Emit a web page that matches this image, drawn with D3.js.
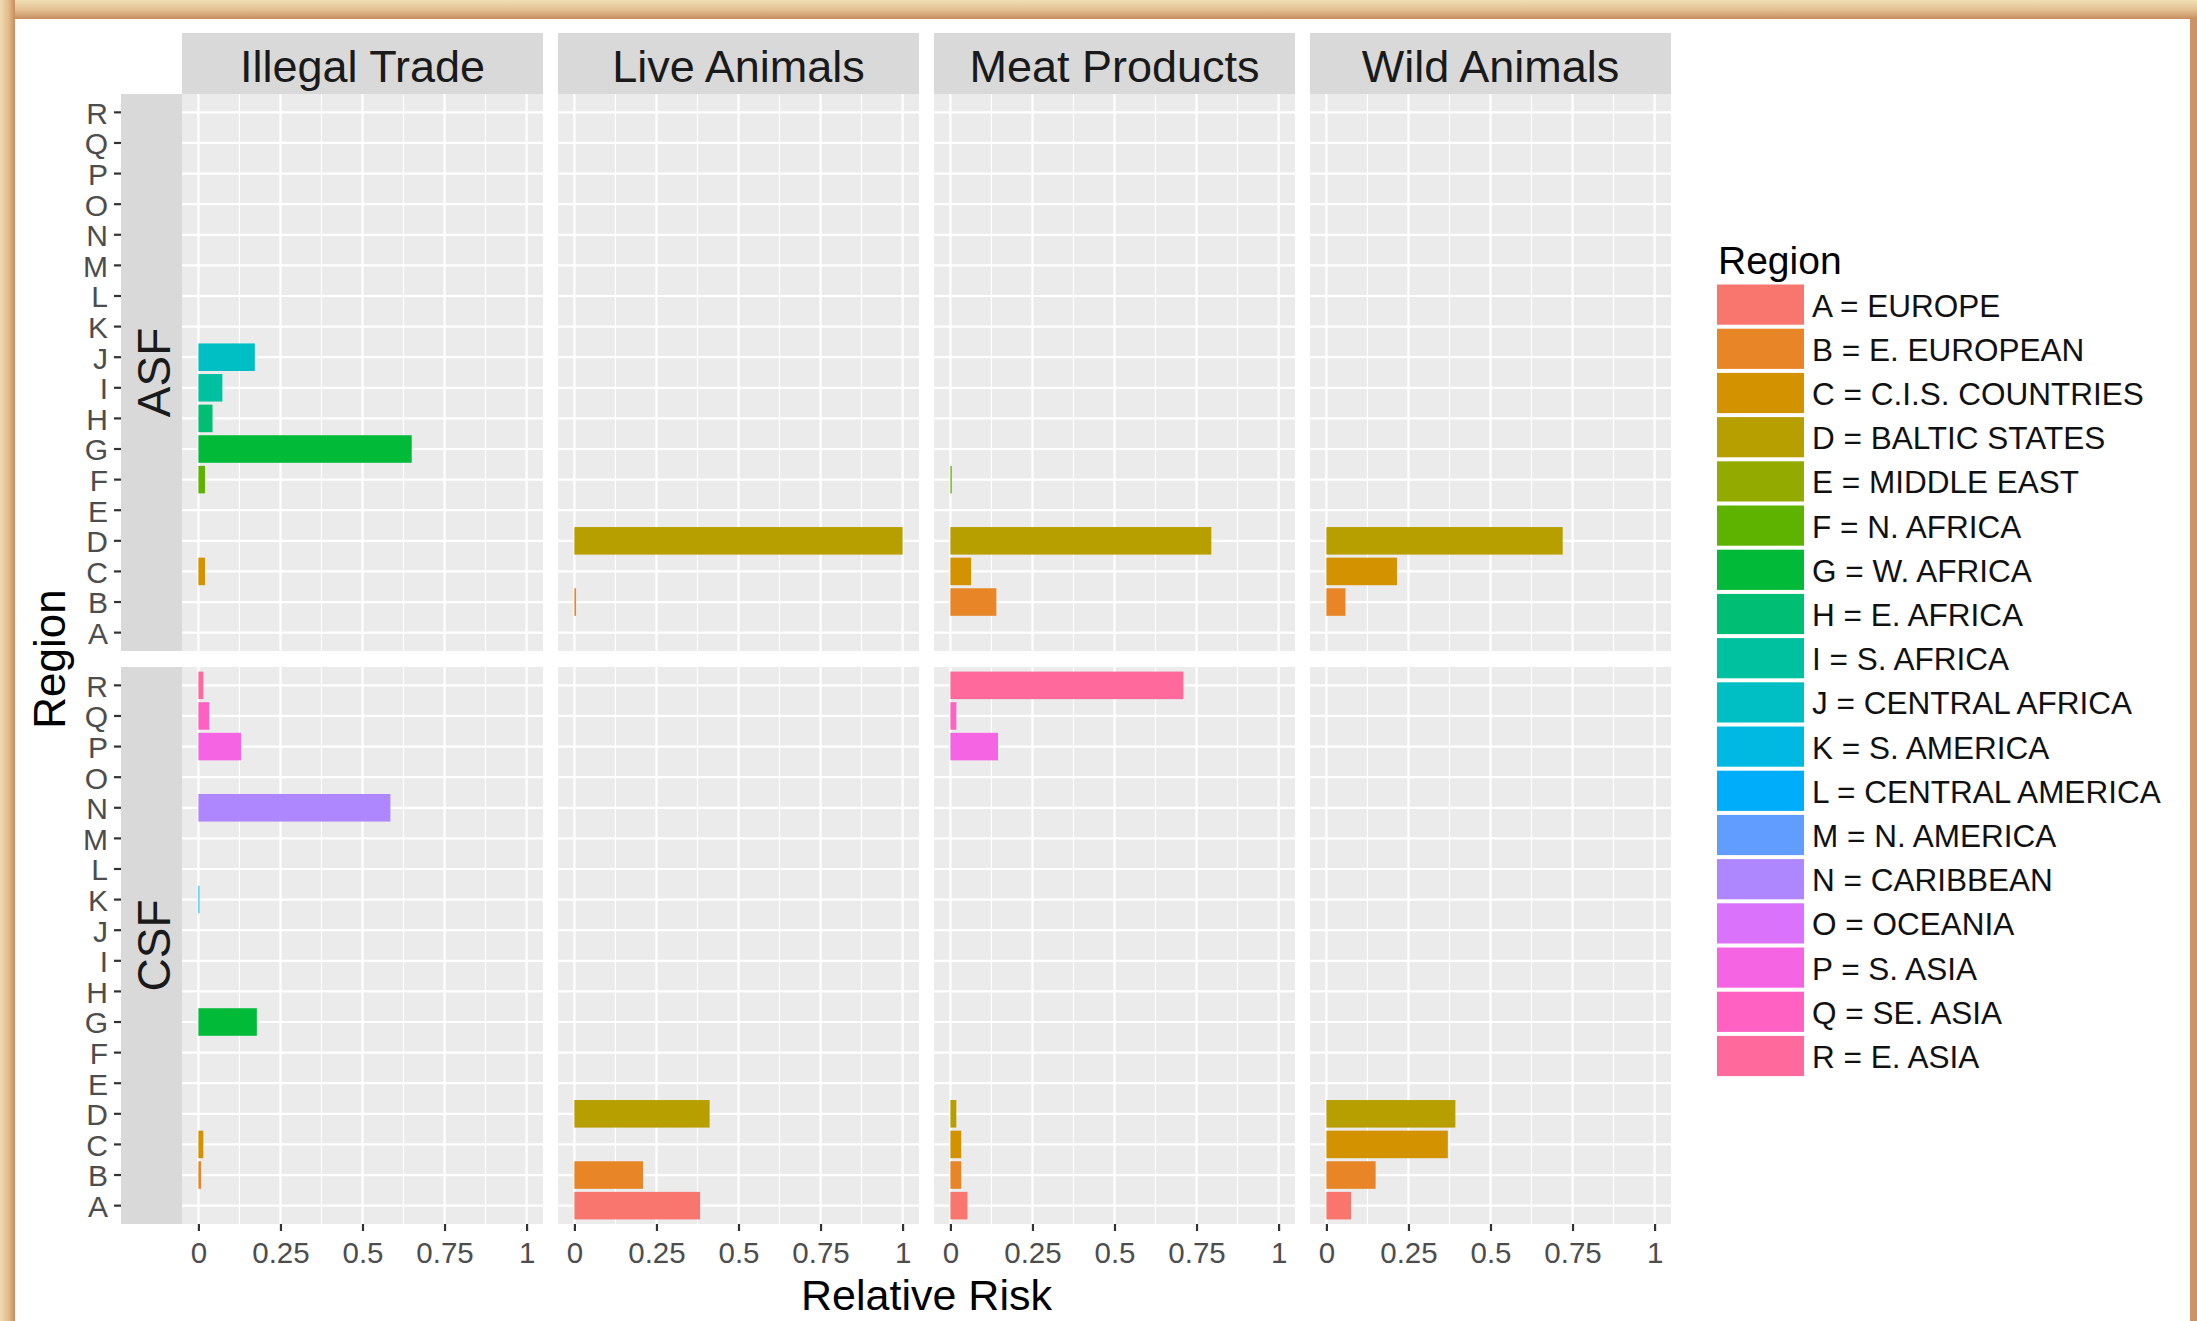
<!DOCTYPE html>
<html>
<head>
<meta charset="utf-8">
<script src="https://cdn.jsdelivr.net/npm/d3@7"></script>
<style>
  html, body { margin: 0; padding: 0; background: #fff; }
  svg { display: block; }
  text { font-family: "Liberation Sans", Arial, sans-serif; }
</style>
</head>
<body>
<svg id="chart" width="2197" height="1321"></svg>
<script>
// ---- data -------------------------------------------------------------
const regions = ["A","B","C","D","E","F","G","H","I","J","K","L","M","N","O","P","Q","R"];
const regionNames = ["EUROPE","E. EUROPEAN","C.I.S. COUNTRIES","BALTIC STATES","MIDDLE EAST",
  "N. AFRICA","W. AFRICA","E. AFRICA","S. AFRICA","CENTRAL AFRICA","S. AMERICA",
  "CENTRAL AMERICA","N. AMERICA","CARIBBEAN","OCEANIA","S. ASIA","SE. ASIA","E. ASIA"];
const pathways = ["Illegal Trade","Live Animals","Meat Products","Wild Animals"];
const diseases = ["ASF","CSF"];
const xTickValues = [0, 0.25, 0.5, 0.75, 1];
const xMinorValues = [0.125, 0.375, 0.625, 0.875];

// relative risk by region A..R
const asfIllegalTrade  = [0, 0, 0.02, 0, 0, 0.02, 0.65, 0.043, 0.073, 0.172, 0, 0, 0, 0, 0, 0, 0, 0];
const asfLiveAnimals   = [0, 0.005, 0, 1.0, 0, 0, 0, 0, 0, 0, 0, 0, 0, 0, 0, 0, 0, 0];
const asfMeatProducts  = [0, 0.14, 0.063, 0.795, 0, 0.004, 0, 0, 0, 0, 0, 0, 0, 0, 0, 0, 0, 0];
const asfWildAnimals   = [0, 0.058, 0.215, 0.72, 0, 0, 0, 0, 0, 0, 0, 0, 0, 0, 0, 0, 0, 0];
const csfIllegalTrade  = [0, 0.008, 0.015, 0, 0, 0, 0.178, 0, 0, 0, 0.003, 0, 0, 0.585, 0, 0.13, 0.033, 0.015];
const csfLiveAnimals   = [0.383, 0.209, 0, 0.412, 0, 0, 0, 0, 0, 0, 0, 0, 0, 0, 0, 0, 0, 0];
const csfMeatProducts  = [0.052, 0.033, 0.033, 0.018, 0, 0, 0, 0, 0, 0, 0, 0, 0, 0, 0, 0.145, 0.018, 0.71];
const csfWildAnimals   = [0.075, 0.15, 0.37, 0.393, 0, 0, 0, 0, 0, 0, 0, 0, 0, 0, 0, 0, 0, 0];

const series = {
  ASF: [asfIllegalTrade, asfLiveAnimals, asfMeatProducts, asfWildAnimals],
  CSF: [csfIllegalTrade, csfLiveAnimals, csfMeatProducts, csfWildAnimals]
};

// ---- evenly spaced HCL hues (polar Luv, L=65, C=100) --------------------
function hueColor(h) {
  const L = 65, C = 100, rad = h * Math.PI / 180;
  const U = C * Math.cos(rad), V = C * Math.sin(rad);
  const Y = 100 * Math.pow((L + 16) / 116, 3);
  const un = 0.1978398, vn = 0.4683363;
  const u = U / (13 * L) + un, v = V / (13 * L) + vn;
  const X = 9 * Y * u / (4 * v);
  const Z = -X / 3 - 5 * Y + 3 * Y / v;
  const lin = [
    3.240479 * X - 1.537150 * Y - 0.498535 * Z,
   -0.969256 * X + 1.875992 * Y + 0.041556 * Z,
    0.055648 * X - 0.204043 * Y + 1.057311 * Z
  ].map(c => c / 100);
  const g = lin.map(c => {
    const s = c <= 0.0031308 ? 12.92 * c : 1.055 * Math.pow(c, 1 / 2.4) - 0.055;
    return Math.round(255 * Math.max(0, Math.min(1, s)));
  });
  return d3.rgb(g[0], g[1], g[2]).formatHex();
}
const color = d3.scaleOrdinal()
  .domain(regions)
  .range(regions.map((_, i) => hueColor(15 + 360 * i / regions.length)));

// ---- layout -----------------------------------------------------------
const svg = d3.select("#chart");
const W = 2197, H = 1321;

// decorative frame
const defs = svg.append("defs");
const gl = defs.append("linearGradient").attr("id", "frameLeft").attr("x1", 0).attr("x2", 1).attr("y1", 0).attr("y2", 0);
gl.append("stop").attr("offset", "0%").attr("stop-color", "#f1dcb2");
gl.append("stop").attr("offset", "55%").attr("stop-color", "#e2bd8c");
gl.append("stop").attr("offset", "100%").attr("stop-color", "#c98c5c");
const gt = defs.append("linearGradient").attr("id", "frameTop").attr("x1", 0).attr("x2", 0).attr("y1", 0).attr("y2", 1);
gt.append("stop").attr("offset", "0%").attr("stop-color", "#f2dfb6");
gt.append("stop").attr("offset", "50%").attr("stop-color", "#e3c193");
gt.append("stop").attr("offset", "100%").attr("stop-color", "#c78e60");
svg.append("rect").attr("x", 0).attr("y", 0).attr("width", W).attr("height", H).attr("fill", "#fff");
svg.append("rect").attr("x", 0).attr("y", 0).attr("width", W).attr("height", 19).attr("fill", "url(#frameTop)");
svg.append("rect").attr("x", 0).attr("y", 0).attr("width", 15).attr("height", H).attr("fill", "url(#frameLeft)");
svg.append("rect").attr("x", 2190).attr("y", 19).attr("width", 7).attr("height", H - 19).attr("fill", "#c9946a");

const panel = { left: 182, width: 361, pitch: 376, top: 94, height: 557, vpitch: 573 };
const stripH = 61, stripW = 61;
const xDomain = [-0.05, 1.05];

diseases.forEach((dis, r) => {
  const top = panel.top + r * panel.vpitch;
  const bottom = top + panel.height;
  const y = d3.scaleBand().domain(regions).range([bottom, top])
    .paddingInner(0.1).paddingOuter(0.15);

  pathways.forEach((pw, c) => {
    const left = panel.left + c * panel.pitch;
    const x = d3.scaleLinear().domain(xDomain).range([left, left + panel.width]);
    const g = svg.append("g");

    g.append("rect").attr("x", left).attr("y", top)
      .attr("width", panel.width).attr("height", panel.height).attr("fill", "#EBEBEB");

    g.selectAll(".minor").data(xMinorValues).join("line")
      .attr("x1", d => x(d)).attr("x2", d => x(d))
      .attr("y1", top).attr("y2", bottom)
      .attr("stroke", "#fff").attr("stroke-width", 1.1);
    g.selectAll(".major").data(xTickValues).join("line")
      .attr("x1", d => x(d)).attr("x2", d => x(d))
      .attr("y1", top).attr("y2", bottom)
      .attr("stroke", "#fff").attr("stroke-width", 2.2);
    g.selectAll(".hgrid").data(regions).join("line")
      .attr("x1", left).attr("x2", left + panel.width)
      .attr("y1", d => y(d) + y.bandwidth() / 2).attr("y2", d => y(d) + y.bandwidth() / 2)
      .attr("stroke", "#fff").attr("stroke-width", 2.2);

    const vals = series[dis][c];
    const bars = regions.map((reg, i) => ({ reg, v: vals[i] })).filter(d => d.v > 0);
    g.selectAll(".bar").data(bars).join("rect")
      .attr("x", x(0))
      .attr("y", d => y(d.reg))
      .attr("width", d => x(d.v) - x(0))
      .attr("height", y.bandwidth())
      .attr("fill", d => color(d.reg));

    // column strip on top row
    if (r === 0) {
      svg.append("rect").attr("x", left).attr("y", top - stripH)
        .attr("width", panel.width).attr("height", stripH).attr("fill", "#D9D9D9");
      svg.append("text").attr("x", left + panel.width / 2).attr("y", top - 12)
        .attr("text-anchor", "middle").attr("font-size", 45).attr("fill", "#1A1A1A")
        .text(pw);
    }

    // x axis on bottom row
    if (r === diseases.length - 1) {
      const ax = svg.append("g").attr("transform", `translate(0,${bottom})`)
        .call(d3.axisBottom(x).tickValues(xTickValues).tickFormat(d => String(d))
          .tickSize(7).tickPadding(11));
      ax.select(".domain").remove();
      ax.selectAll(".tick line").attr("stroke", "#333333").attr("stroke-width", 2.2);
      ax.selectAll(".tick text").attr("font-size", 29.5).attr("fill", "#4D4D4D")
        .attr("font-family", "Liberation Sans, Arial, sans-serif");
    }
  });

  // row strip, placed between axis and panels
  const stripX = panel.left - stripW;
  svg.append("rect").attr("x", stripX).attr("y", top)
    .attr("width", stripW).attr("height", panel.height).attr("fill", "#D9D9D9");
  svg.append("text")
    .attr("transform", `translate(${stripX + 49},${(top + bottom) / 2}) rotate(-90)`)
    .attr("text-anchor", "middle").attr("font-size", 46).attr("fill", "#1A1A1A")
    .text(dis);

  const ay = svg.append("g").attr("transform", `translate(${stripX},0)`)
    .call(d3.axisLeft(y).tickSize(7).tickPadding(6));
  ay.select(".domain").remove();
  ay.selectAll(".tick line").attr("stroke", "#333333").attr("stroke-width", 2.2);
  ay.selectAll(".tick text").attr("font-size", 30).attr("fill", "#4D4D4D")
    .attr("dy", "0.38em")
    .attr("font-family", "Liberation Sans, Arial, sans-serif");
});

// axis titles
const plotTop = panel.top, plotBottom = panel.top + panel.vpitch + panel.height;
svg.append("text")
  .attr("transform", `translate(65,${(plotTop + plotBottom) / 2}) rotate(-90)`)
  .attr("text-anchor", "middle").attr("font-size", 44).attr("fill", "#000")
  .text("Region");
svg.append("text")
  .attr("x", panel.left + (3 * panel.pitch + panel.width) / 2).attr("y", 1310)
  .attr("text-anchor", "middle").attr("font-size", 43).attr("fill", "#000")
  .text("Relative Risk");

// legend
const legX = 1717, legTop = 284, keyPitch = 44.2, keyW = 87;
svg.append("text").attr("x", legX + 1).attr("y", 274)
  .attr("font-size", 39).attr("fill", "#000").text("Region");
const leg = svg.append("g");
leg.selectAll("rect").data(regions).join("rect")
  .attr("x", legX).attr("y", (d, i) => legTop + i * keyPitch + 0.5)
  .attr("width", keyW).attr("height", keyPitch - 4)
  .attr("fill", d => color(d));
leg.selectAll("text").data(regions).join("text")
  .attr("x", legX + keyW + 8)
  .attr("y", (d, i) => legTop + i * keyPitch + (keyPitch - 4) / 2 + 0.5)
  .attr("dy", "0.38em")
  .attr("font-size", 31.5).attr("fill", "#111")
  .text((d, i) => `${d} = ${regionNames[i]}`);
</script>
</body>
</html>
